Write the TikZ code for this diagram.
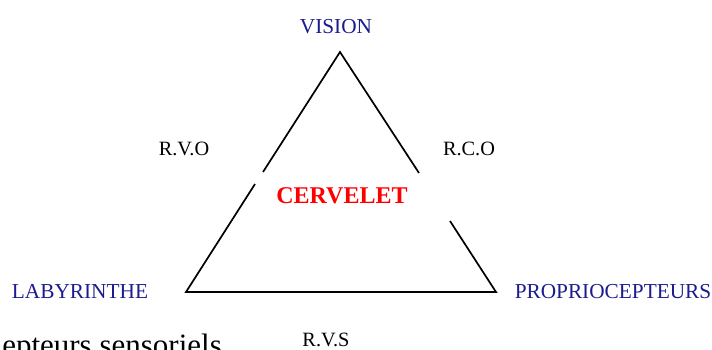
\documentclass[tikz,border=0pt]{standalone}
\usepackage{fontspec}
\setmainfont{Liberation Serif}
\definecolor{labblue}{RGB}{28,28,140}
\tikzset{
  lab/.style={anchor=base, inner sep=0pt, text=labblue, font=\fontsize{21.3}{25}\selectfont},
  via/.style={anchor=base, inner sep=0pt, text=black, font=\fontsize{20.3}{24}\selectfont},
  centre/.style={anchor=base, inner sep=0pt, text=red, font=\fontsize{24}{28}\selectfont\bfseries},
  edge/.style={draw=black, line width=1.7pt, line join=miter}
}
\begin{document}
\begin{tikzpicture}[x=1pt,y=-1pt]
\useasboundingbox (0,0) rectangle (712,349);
\coordinate (A) at (340,52);
\coordinate (BL) at (186,292);
\coordinate (BR) at (496,292);
\coordinate (L1) at (263,172);
\coordinate (L2) at (255,184);
\coordinate (R1) at (419,173);
\coordinate (R2) at (450,221);
\draw[edge] (L1) -- (A) -- (R1);
\draw[edge] (L2) -- (BL) -- (BR) -- (R2);
\node[lab] (vision) at (336,33) {VISION};
\node[lab] (laby) at (80,298) {LABYRINTHE};
\node[lab] (proprio) at (613,298) {PROPRIOCEPTEURS};
\node[via] (rvo) at (184,155) {R.V.O};
\node[via] (rco) at (469,155) {R.C.O};
\node[via] (rvs) at (326,346.5) {R.V.S};
\node[centre] (cervelet) at (342,203) {CERVELET};
\begin{scope}
\clip (0,0) rectangle (712,349);
\node[anchor=base east, inner sep=0pt, font=\fontsize{31}{36}\selectfont] (recept) at (222,355) {epteurs sensoriels};
\end{scope}
\end{tikzpicture}
\end{document}
